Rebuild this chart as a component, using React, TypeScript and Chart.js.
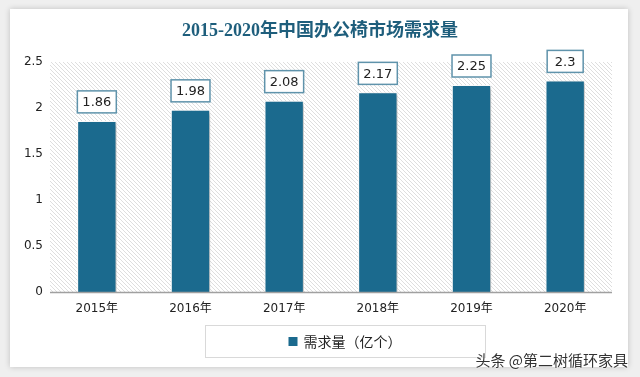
import React, { useEffect, useRef } from "react";
import { Chart, registerables } from "chart.js";

Chart.register(...registerables);

const categories = ["2015年", "2016年", "2017年", "2018年", "2019年", "2020年"];
const demand = [1.86, 1.98, 2.08, 2.17, 2.25, 2.3];
const seriesName = "需求量（亿个）";
const titleText = "2015-2020年中国办公椅市场需求量";
const yTicks = [0, 0.5, 1, 1.5, 2, 2.5];

const BAR = "#1b6a8e";

function makeHatch(ctx: CanvasRenderingContext2D) {
  const c = document.createElement("canvas");
  c.width = 4;
  c.height = 4;
  const g = c.getContext("2d")!;
  g.fillStyle = "#ffffff";
  g.fillRect(0, 0, 4, 4);
  g.strokeStyle = "#dedede";
  g.lineWidth = 1;
  g.beginPath();
  g.moveTo(-1, -1);
  g.lineTo(5, 5);
  g.moveTo(-1, 3);
  g.lineTo(1, 5);
  g.moveTo(3, -1);
  g.lineTo(5, 1);
  g.stroke();
  return ctx.createPattern(c, "repeat")!;
}

const decorPlugin = {
  id: "decor",
  beforeDatasetsDraw(chart: any) {
    const { ctx, chartArea } = chart;
    ctx.save();
    ctx.fillStyle = makeHatch(ctx);
    ctx.fillRect(chartArea.left, chartArea.top, chartArea.right - chartArea.left, chartArea.bottom - chartArea.top);
    ctx.restore();
  },
  beforeDatasetDraw(chart: any) {
    const ctx = chart.ctx;
    ctx.save();
    ctx.shadowColor = "rgba(0,0,0,0.25)";
    ctx.shadowBlur = 4;
    ctx.shadowOffsetX = 3;
    ctx.shadowOffsetY = 2;
  },
  afterDatasetDraw(chart: any) {
    chart.ctx.restore();
  },
  afterDatasetsDraw(chart: any) {
    const { ctx } = chart;
    const meta = chart.getDatasetMeta(0);
    ctx.save();
    ctx.font = "13px 'DejaVu Sans', sans-serif";
    ctx.textAlign = "center";
    ctx.textBaseline = "middle";
    meta.data.forEach((bar: any, i: number) => {
      const txt = String(demand[i]);
      const w = Math.max(36, ctx.measureText(txt).width + 10);
      const h = 22;
      const x = bar.x;
      const y = bar.y - 8 - h / 2;
      ctx.fillStyle = "#ffffff";
      ctx.fillRect(x - w / 2, y - h / 2, w, h);
      ctx.strokeStyle = "#5f93ab";
      ctx.lineWidth = 1.5;
      ctx.strokeRect(x - w / 2, y - h / 2, w, h);
      ctx.fillStyle = "#222222";
      ctx.fillText(txt, x, y + 1);
    });
    ctx.restore();
  },
  afterDraw(chart: any) {
    const { ctx, chartArea } = chart;
    ctx.save();
    // title
    ctx.font = "bold 18px 'Liberation Serif', 'Noto Sans CJK SC', serif";
    ctx.fillStyle = "#1e5e7c";
    ctx.textAlign = "center";
    ctx.textBaseline = "middle";
    ctx.fillText(titleText, chart.width / 2 + 1, 22);
    // x axis line
    ctx.strokeStyle = "#a0a0a0";
    ctx.lineWidth = 1.5;
    ctx.beginPath();
    ctx.moveTo(chartArea.left, chartArea.bottom + 0.5);
    ctx.lineTo(chartArea.right, chartArea.bottom + 0.5);
    ctx.stroke();
    // legend box
    const bx = 195, by = 316, bw = 280, bh = 32;
    ctx.fillStyle = "#ffffff";
    ctx.fillRect(bx, by, bw, bh);
    ctx.strokeStyle = "#d9d9d9";
    ctx.lineWidth = 1;
    ctx.strokeRect(bx + 0.5, by + 0.5, bw, bh);
    ctx.font = "14px 'Noto Sans CJK SC', sans-serif";
    const tw = ctx.measureText(seriesName).width;
    const total = 10 + 5 + tw;
    const sx = bx + bw / 2 - total / 2;
    const cy = by + bh / 2 + 1;
    ctx.fillStyle = BAR;
    ctx.fillRect(sx, cy - 5, 9, 9);
    ctx.fillStyle = "#222222";
    ctx.textAlign = "left";
    ctx.fillText(seriesName, sx + 15, cy);
    ctx.restore();
  },
};

export default function App() {
  const ref = useRef<HTMLCanvasElement>(null);
  useEffect(() => {
    const chart = new Chart(ref.current!, {
      type: "bar",
      data: {
        labels: categories,
        datasets: [
          {
            label: seriesName,
            data: demand,
            backgroundColor: BAR,
            borderColor: "#ffffff",
            borderWidth: 1,
            barPercentage: 0.42,
            categoryPercentage: 1,
          },
        ],
      },
      options: {
        animation: false,
        responsive: false,
        maintainAspectRatio: false,
        layout: { padding: { top: 53, right: 16, bottom: 45, left: 0 } },
        plugins: {
          legend: { display: false },
          title: { display: false },
          tooltip: { enabled: false },
        },
        scales: {
          x: {
            grid: { display: false, drawTicks: false },
            border: { display: false },
            ticks: {
              color: "#222222",
              font: { family: "'DejaVu Sans', 'Noto Sans CJK SC', sans-serif", size: 12 },
              padding: 10,
            },
            afterFit: (s: any) => {
              s.height = 30;
            },
          },
          y: {
            min: 0,
            max: 2.5,
            afterBuildTicks: (s: any) => {
              s.ticks = yTicks.map((v) => ({ value: v }));
            },
            grid: { display: false, drawTicks: false },
            border: { display: false },
            ticks: {
              color: "#222222",
              font: { family: "'DejaVu Sans', sans-serif", size: 12 },
              padding: 7,
              callback: (v: any) => String(Number(v)),
            },
            afterFit: (s: any) => {
              s.width = 40;
            },
          },
        },
      },
      plugins: [decorPlugin],
    });
    return () => chart.destroy();
  }, []);

  return (
    <div style={{ position: "fixed", left: 0, top: 0, width: 640, height: 377, background: "#efefef", overflow: "hidden" }}>
      <div
        style={{
          position: "absolute",
          left: 10,
          top: 9,
          width: 618,
          height: 358,
          background: "#ffffff",
          boxShadow: "0 0 6px rgba(0,0,0,0.2)",
        }}
      >
        <canvas ref={ref} width={618} height={358} style={{ display: "block", width: 618, height: 358 }} />
        <div
          style={{
            position: "absolute",
            right: 0,
            top: 340,
            lineHeight: "22px",
            fontFamily: "'Noto Sans CJK SC', sans-serif",
            fontSize: 15,
            color: "#333333",
            textShadow: "0 0 2px #ffffff, 0 0 2px #ffffff",
            whiteSpace: "nowrap",
          }}
        >
          头条 @第二树循环家具
        </div>
      </div>
    </div>
  );
}
